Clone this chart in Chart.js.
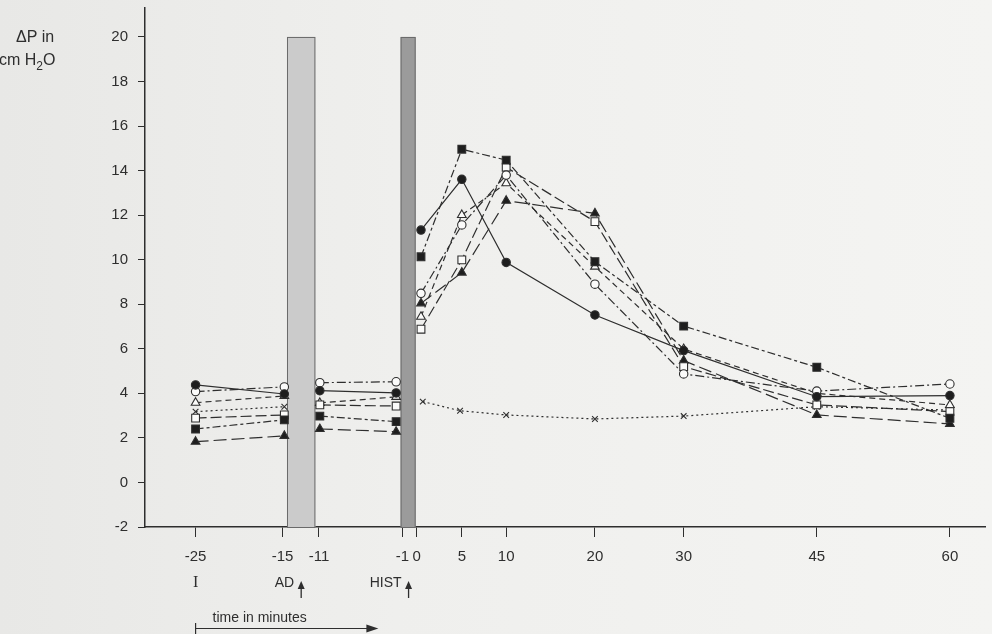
<!DOCTYPE html>
<html><head><meta charset="utf-8">
<script src="https://cdn.jsdelivr.net/npm/chart.js@4/dist/chart.umd.min.js"></script>
<style>html,body{margin:0;padding:0;background:#efefed;}#wrap{width:992px;height:634px;position:relative;}canvas{display:block}</style>
</head><body><div id="wrap"><canvas id="c" width="992" height="634"></canvas></div>
<script>
// ---- data ----
const times = [-25, -15, -11, -2.4, 0.4, 5, 10, 20, 30, 45, 60];
const filledCircle   = [4.38, 3.97, 4.12, 4.02, 11.33, 13.61, 9.88, 7.52, 5.92, 3.85, 3.90];
const openCircle     = [4.08, 4.29, 4.48, 4.52, 8.49, 11.56, 13.80, 8.90, 4.87, 4.10, 4.42];
const filledSquare   = [2.40, 2.81, 2.98, 2.73, 10.13, 14.96, 14.47, 9.91, 7.02, 5.17, 2.88];
const openSquare     = [2.89, 3.03, 3.48, 3.43, 6.88, 9.99, 14.15, 11.71, 5.20, 3.48, 3.18];
const filledTriangle = [1.83, 2.09, 2.40, 2.28, 8.04, 9.42, 12.65, 12.08, 5.47, 3.03, 2.63];
const openTriangle   = [3.58, 3.88, 3.57, 3.84, 7.44, 12.01, 13.43, 9.69, 5.99, 4.00, 3.48];
const controlTimes   = [-25, -15, 0.6, 4.8, 10, 20, 30, 45, 60];
const control        = [3.18, 3.40, 3.63, 3.22, 3.03, 2.85, 2.98, 3.40, 3.25];
const xTickPositions = [-25, -15.2, -11.1, -1.7, -0.1, 5, 10, 20, 30, 45, 60];
const xTickLabels    = ['-25', '-15', '-11', '-1', '0', '5', '10', '20', '30', '45', '60'];
const yTicks = [-2, 0, 2, 4, 6, 8, 10, 12, 14, 16, 18, 20];
const shadedIntervals = [[-14.7, -11.5], [-1.9, -0.2]];
const shadedTop = 20;
const eventLabels = [{text: 'I', t: -25, arrow: false}, {text: 'AD', t: -13.1, arrow: true}, {text: 'HIST', t: -1.0, arrow: true}];
const timeArrow = [-25, -4.4];

// ---- styling ----
const INK = '#2e2e2e';
const FONT = '"Liberation Sans", Arial, Helvetica, sans-serif';
function toPts(ts, vs){ return ts.map((t,i)=>({x:t, y:vs[i]})); }
function crossesShade(a,b){ return shadedIntervals.some(([s,e]) => a < e && b > s); }
const radiusFor = { triangle: 5, rect: 5.5, circle: 4.2, crossRot: 4 };
function series(label, vals, style, filled, dash, ts){
  return {
    label, data: toPts(ts || times, vals),
    borderColor: INK, borderWidth: 1.2, borderDash: dash,
    pointStyle: style, pointRadius: radiusFor[style],
    pointBorderWidth: 1.1, pointBorderColor: INK,
    pointBackgroundColor: filled ? '#1e1e1e' : '#fbfbfa',
    tension: 0, fill: false,
    segment: { borderColor: ctx => crossesShade(ctx.p0.parsed.x, ctx.p1.parsed.x) ? 'rgba(0,0,0,0)' : INK }
  };
}
const datasets = [
  series('filled circle', filledCircle, 'circle', true, []),
  series('open circle', openCircle, 'circle', false, [9,3,2,3]),
  series('filled square', filledSquare, 'rect', true, [8,3,3,3]),
  series('open square', openSquare, 'rect', false, [11,4]),
  series('filled triangle', filledTriangle, 'triangle', true, [13,5]),
  series('open triangle', openTriangle, 'triangle', false, [6,4]),
  series('control', control, 'crossRot', false, [2,3], controlTimes)
];

const bgPlugin = {
  id: 'bg',
  beforeDraw(chart){
    const {ctx, width, height} = chart;
    const g = ctx.createLinearGradient(0,0,width,0);
    g.addColorStop(0,'#e8e8e6'); g.addColorStop(0.4,'#efefed'); g.addColorStop(1,'#f4f4f2');
    ctx.save(); ctx.fillStyle = g; ctx.fillRect(0,0,width,height); ctx.restore();
  }
};
const shadePlugin = {
  id: 'shade',
  beforeDatasetsDraw(chart){
    const {ctx, scales:{x,y}} = chart;
    const fills = ['#cbcbcb', '#9b9b9b'];
    ctx.save();
    shadedIntervals.forEach(([s,e],i)=>{
      const x0 = x.getPixelForValue(s), x1 = x.getPixelForValue(e);
      const y0 = y.getPixelForValue(shadedTop), y1 = y.getPixelForValue(y.min);
      ctx.fillStyle = fills[i];
      ctx.fillRect(x0, y0, x1-x0, y1-y0);
      ctx.strokeStyle = '#6a6a6a'; ctx.lineWidth = 1;
      ctx.strokeRect(x0+0.5, y0+0.5, x1-x0-1, y1-y0);
    });
    ctx.restore();
  }
};
function upArrow(ctx, px, tipY, baseY){
  ctx.beginPath(); ctx.moveTo(px, tipY+4); ctx.lineTo(px, baseY); ctx.stroke();
  ctx.beginPath(); ctx.moveTo(px, tipY); ctx.lineTo(px-3.5, tipY+8); ctx.lineTo(px+3.5, tipY+8); ctx.closePath(); ctx.fill();
}
const textPlugin = {
  id: 'texts',
  afterDraw(chart){
    const {ctx, scales:{x}} = chart;
    ctx.save();
    ctx.fillStyle = INK; ctx.strokeStyle = INK; ctx.lineWidth = 1.3;
    ctx.font = '16px ' + FONT; ctx.textBaseline = 'alphabetic'; ctx.textAlign = 'left';
    ctx.fillText('\u0394P in', 16, 42);
    let cx = -1;
    ctx.fillText('cm H', cx, 65); cx += ctx.measureText('cm H').width;
    ctx.font = '12px ' + FONT; ctx.fillText('2', cx, 70); cx += ctx.measureText('2').width;
    ctx.font = '16px ' + FONT; ctx.fillText('O', cx, 65);
    eventLabels.forEach(ev=>{
      const px = x.getPixelForValue(ev.t);
      if (!ev.arrow){
        ctx.font = '16px "Liberation Serif", "Times New Roman", serif';
        ctx.textAlign = 'center'; ctx.textBaseline = 'middle';
        ctx.fillText(ev.text, px, 583);
      } else {
        ctx.font = '14px ' + FONT;
        ctx.textAlign = 'right'; ctx.textBaseline = 'middle';
        ctx.fillText(ev.text, px - 7, 583);
        upArrow(ctx, px, 581, 598);
      }
    });
    const a0 = x.getPixelForValue(timeArrow[0]), a1 = x.getPixelForValue(timeArrow[1]);
    ctx.lineWidth = 1.2;
    ctx.beginPath(); ctx.moveTo(a0, 623); ctx.lineTo(a0, 634); ctx.stroke();
    ctx.beginPath(); ctx.moveTo(a0, 628.5); ctx.lineTo(a1-10, 628.5); ctx.stroke();
    ctx.beginPath(); ctx.moveTo(a1, 628.5); ctx.lineTo(a1-12, 624.5); ctx.lineTo(a1-12, 632.5); ctx.closePath(); ctx.fill();
    ctx.font = '14px ' + FONT; ctx.textAlign = 'left'; ctx.textBaseline = 'middle';
    ctx.fillText('time in minutes', a0 + 17, 618);
    ctx.restore();
  }
};

new Chart(document.getElementById('c'), {
  type: 'line',
  data: { datasets },
  plugins: [bgPlugin, shadePlugin, textPlugin],
  options: {
    responsive: false, animation: false, devicePixelRatio: 1,
    layout: { padding: { top: 8, right: 2, left: 0, bottom: 0 } },
    plugins: { legend: { display: false }, tooltip: { enabled: false } },
    scales: {
      x: {
        type: 'linear', min: -30.7, max: 64,
        afterBuildTicks: s => { s.ticks = xTickPositions.map(v => ({value: v})); },
        afterFit: s => { s.height = 107; s.paddingLeft = 0; s.paddingRight = 0; },
        border: { display: true, color: INK, width: 1.5 },
        grid: { display: true, drawOnChartArea: false, drawTicks: true, tickLength: 10, color: INK, lineWidth: 1 },
        ticks: { color: INK, font: { family: FONT, size: 15 }, padding: 11, autoSkip: false, maxRotation: 0,
                 callback: (v, i) => xTickLabels[i] }
      },
      y: {
        type: 'linear', min: -2, max: 21.3,
        afterBuildTicks: s => { s.ticks = yTicks.map(v => ({value: v})); },
        afterFit: s => { s.width = 145; s.paddingTop = 0; s.paddingBottom = 0; },
        border: { display: true, color: INK, width: 1.5 },
        grid: { display: true, drawOnChartArea: false, drawTicks: true, tickLength: 7, color: INK, lineWidth: 1 },
        ticks: { color: INK, font: { family: FONT, size: 15 }, padding: 10 }
      }
    }
  }
});
</script></body></html>
